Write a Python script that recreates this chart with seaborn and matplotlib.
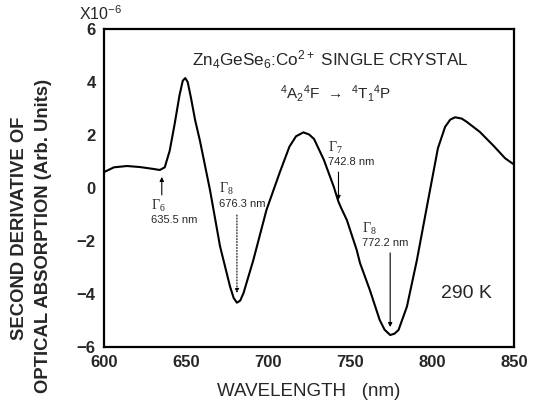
import matplotlib
matplotlib.use('Agg')
import matplotlib.pyplot as plt
import seaborn as sns
import pandas as pd

# curve (wavelength in nm, value in units of 1e-6)
wavelength = [600, 606, 614, 622, 630, 634, 637, 640, 643, 646, 648, 649.5,
              651, 653, 655.5, 658.5, 664.6, 670.7, 676.8, 679, 681, 683, 685,
              691, 699, 707, 713, 717, 721.5, 725, 728, 734, 740, 742.9, 744.5,
              748, 754, 756, 762, 768, 771, 774.4, 777, 779.5, 784.6, 790.7,
              796.8, 803.5, 807.9, 811, 814, 818, 821, 829, 837, 844.5, 850]
second_deriv = [0.60, 0.78, 0.83, 0.79, 0.72, 0.68, 0.78, 1.40, 2.40, 3.50,
                4.05, 4.15, 4.00, 3.40, 2.57, 1.77, -0.08, -2.20, -3.72, -4.15,
                -4.33, -4.25, -3.97, -2.72, -0.83, 0.57, 1.56, 1.95, 2.10, 2.02,
                1.85, 1.06, 0.05, -0.52, -0.75, -1.21, -2.34, -2.83, -3.85,
                -4.98, -5.35, -5.55, -5.50, -5.36, -4.48, -2.72, -0.70, 1.50,
                2.31, 2.58, 2.67, 2.62, 2.50, 2.12, 1.62, 1.12, 0.88]

# labelled transitions
peak_gamma = ['6', '8', '7', '8']
peak_text = ['635.5 nm', '676.3 nm', '742.8 nm', '772.2 nm']
arrow_x = [635.2, 681.0, 742.9, 774.4]
arrow_y0 = [-0.26, -1.02, 0.60, -2.45]
arrow_y1 = [0.42, -3.96, -0.45, -5.25]
label_x = [628.5, 669.8, 736.6, 757.3]
label_y = [-1.21, -0.60, 0.98, -2.08]
arrow_style = ['-', ':', '-', '-']

x_ticks = [600, 650, 700, 750, 800, 850]
y_ticks = [-6, -4, -2, 0, 2, 4, 6]

df = pd.DataFrame({'wavelength': wavelength, 'value': second_deriv})

sns.set_style('white')
plt.rcParams['font.family'] = ['Liberation Sans', 'DejaVu Sans']
plt.rcParams['mathtext.default'] = 'regular'

fig = plt.figure(figsize=(5.39, 4.15), dpi=100)
ax = fig.add_axes([0.193, 0.164, 0.761, 0.766])

sns.lineplot(data=df, x='wavelength', y='value', ax=ax, color='black',
             linewidth=1.5, sort=False)

ax.set_xlim(600, 850)
ax.set_ylim(-6, 6)
ax.set_xticks(x_ticks)
ax.set_yticks(y_ticks)
ax.tick_params(direction='in', length=7, width=1.2, labelsize=12, pad=6,
               top=False, right=False)
for lab in ax.get_xticklabels() + ax.get_yticklabels():
    lab.set_fontweight('bold')
for sp in ax.spines.values():
    sp.set_linewidth(1.6)
    sp.set_color('black')

ax.set_xlabel('WAVELENGTH   (nm)', fontsize=13.5, labelpad=9)
ax.set_ylabel('')
fig.text(0.037, 0.451, 'SECOND DERIVATIVE OF', rotation=90, fontsize=13.3,
         ha='center', va='center', fontweight='bold')
fig.text(0.080, 0.431, 'OPTICAL ABSORPTION (Arb. Units)', rotation=90,
         fontsize=13.3, ha='center', va='center', fontweight='bold')

ax.text(-0.06, 1.047, 'X10$^{-6}$', transform=ax.transAxes, fontsize=11.5,
        ha='left', va='center')

ax.text(653.7, 4.83, 'Zn$_4$GeSe$_6$:Co$^{2+}$ SINGLE CRYSTAL', fontsize=12.3,
        ha='left', va='center')
ax.text(707.3, 3.57, '$^4$A$_2$$^4$F  \u2192  $^4$T$_1$$^4$P', fontsize=11,
        ha='left', va='center')
ax.text(821, -4.0, '290 K', fontsize=14, ha='center', va='center')

for g, t, xa, y0, y1, lx, ly, ls in zip(peak_gamma, peak_text, arrow_x, arrow_y0,
                                         arrow_y1, label_x, label_y, arrow_style):
    ax.annotate('', xy=(xa, y1), xytext=(xa, y0),
                arrowprops=dict(arrowstyle='-|>', color='black', lw=0.8,
                                linestyle=ls, mutation_scale=6,
                                shrinkA=0, shrinkB=0))
    ax.text(lx, ly + 0.55, '\u0393$_{' + g + '}$', fontsize=10,
            family='Liberation Serif', ha='left', va='center')
    ax.text(lx, ly, t, fontsize=8, ha='left', va='center')

plt.savefig('out.png', dpi=100)
